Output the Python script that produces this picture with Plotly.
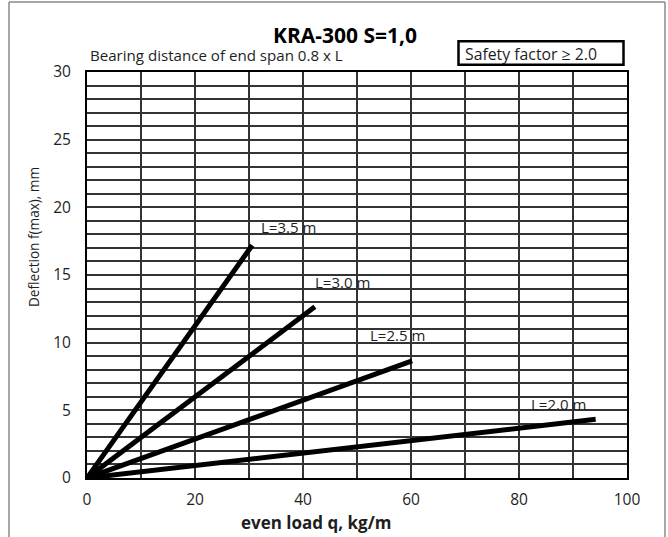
import plotly.graph_objects as go

# Data
spans = ["L=3.5 m", "L=3.0 m", "L=2.5 m", "L=2.0 m"]
load_end = [30.6, 42.2, 60.2, 94.2]        # kg/m at end of each line
defl_end = [17.2, 12.65, 8.65, 4.34]       # mm at end of each line
label_x = [31.9, 41.9, 52.1, 81.9]
label_y = [18.55, 14.5, 10.6, 5.48]
x_ticks = [0, 20, 40, 60, 80, 100]
y_ticks = [0, 5, 10, 15, 20, 25, 30]

FONT = "Open Sans"
TXT = "#1e1e1e"
W, H = 668, 537
L, R, T, B = 87, 41, 72, 59
PW, PH = W - L - R, H - T - B

def px(x):
    return (x - L) / PW

def py(y):
    return (H - B - y) / PH

fig = go.Figure()
for name, xe, ye in zip(spans, load_end, defl_end):
    fig.add_trace(go.Scatter(x=[0, xe], y=[0, ye], mode="lines",
                             line=dict(color="black", width=5), name=name,
                             showlegend=False, hoverinfo="skip"))

for name, lx, ly in zip(spans, label_x, label_y):
    fig.add_annotation(x=lx, y=ly, text=name, showarrow=False, xanchor="left",
                       yanchor="middle",
                       font=dict(family=FONT, size=15, color=TXT))

grid = dict(showgrid=True, gridcolor="#333", gridwidth=1.6)
fig.update_layout(
    width=W, height=H,
    margin=dict(l=L, r=R, t=T, b=B),
    paper_bgcolor="white", plot_bgcolor="white",
    font=dict(family=FONT, size=15, color=TXT),
    xaxis=dict(range=[0, 100], tickvals=x_ticks, **grid,
               minor=dict(dtick=10, **grid),
               zeroline=False, showline=True, linecolor="black", linewidth=2, mirror=True,
               ticks="", tickfont=dict(family=FONT, size=15.5, color=TXT), ticklabelstandoff=6),
    yaxis=dict(range=[0, 30], tickvals=y_ticks, **grid,
               minor=dict(dtick=1, **grid),
               zeroline=False, showline=True, linecolor="black", linewidth=2, mirror=True,
               ticks="", tickfont=dict(family=FONT, size=15.5, color=TXT), ticklabelstandoff=11),
)

# Title and texts
fig.add_annotation(x=px(344.5), y=py(35), xref="paper", yref="paper", text="<b>KRA-300 S=1,0</b>",
                   showarrow=False, xanchor="center", yanchor="middle",
                   font=dict(family=FONT, size=21, color="black"))
fig.add_annotation(x=px(88), y=py(55), xref="paper", yref="paper",
                   text="Bearing distance of end span 0.8 x L",
                   showarrow=False, xanchor="left", yanchor="middle",
                   font=dict(family=FONT, size=15.1, color=TXT))
fig.add_annotation(x=px(531), y=py(54.5), xref="paper", yref="paper",
                   text="Safety factor \u2265 2.0",
                   showarrow=False, xanchor="center", yanchor="middle",
                   font=dict(family=FONT, size=15.8, color=TXT))
fig.add_shape(type="rect", xref="paper", yref="paper",
              x0=px(458.5), x1=px(623.5), y0=py(41.2), y1=py(64.8),
              line=dict(color="black", width=2.5), fillcolor="rgba(0,0,0,0)")
fig.add_annotation(x=px(316), y=py(522), xref="paper", yref="paper",
                   text="<b>even load q, kg/m</b>", showarrow=False,
                   xanchor="center", yanchor="middle", borderpad=0,
                   font=dict(family=FONT, size=17, color=TXT))
fig.add_annotation(x=px(33), y=py(237), xref="paper", yref="paper",
                   text="Deflection f(max), mm", showarrow=False, textangle=-90,
                   xanchor="center", yanchor="middle",
                   font=dict(family=FONT, size=13.6, color=TXT))

# Outer frame
frame = dict(color="#8a8a8a", width=1.5)
fig.add_shape(type="line", xref="paper", yref="paper", x0=px(9), x1=px(9), y0=py(2), y1=py(540), line=frame)
fig.add_shape(type="line", xref="paper", yref="paper", x0=px(665), x1=px(665), y0=py(2), y1=py(540), line=frame)
fig.add_shape(type="line", xref="paper", yref="paper", x0=px(9), x1=px(665), y0=py(2), y1=py(2), line=frame)

fig.write_html("out.html", config={"displayModeBar": False},
               post_script="document.body.style.margin='0';document.body.style.overflow='hidden';")
